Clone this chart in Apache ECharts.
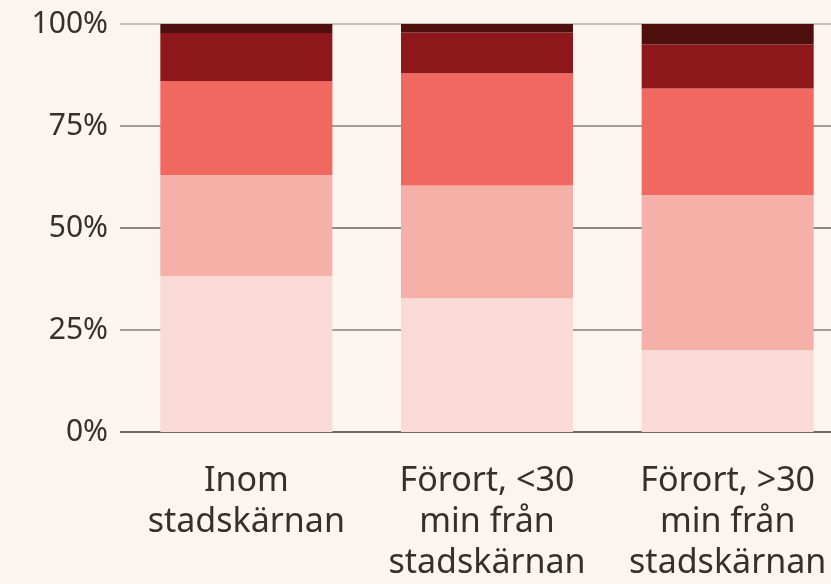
<!DOCTYPE html>
<html>
<head>
<meta charset="utf-8">
<script src="https://cdn.jsdelivr.net/npm/echarts@6/dist/echarts.min.js"></script>
<style>
html,body{margin:0;padding:0;background:#fbf4ef;overflow:hidden;width:831px;height:584px;}
#chart{width:850px;height:584px;}
</style>
</head>
<body>
<div id="chart"></div>
<script>
// Data (percent of each category, bottom to top)
const categories = ["Inom\nstadskärnan", "Förort, <30\nmin från\nstadskärnan", "Förort, >30\nmin från\nstadskärnan"];
const seriesNames = ["Segment 1", "Segment 2", "Segment 3", "Segment 4", "Segment 5"];
const seg1 = [38.2, 32.8, 20.1];
const seg2 = [24.8, 27.6, 38.0];
const seg3 = [23.0, 27.5, 26.1];
const seg4 = [11.8, 10.0, 10.8];
const seg5 = [2.2, 2.1, 5.0];
const yTicks = [0, 25, 50, 75, 100];

const colors = ["#f9dad6", "#f5b0a8", "#f0685f", "#8e171b", "#4e100e"];
const font = "'Noto Sans', sans-serif";
const allSeg = [seg1, seg2, seg3, seg4, seg5];

const chart = echarts.init(document.getElementById('chart'));
chart.setOption({
  backgroundColor: '#fbf4ef',
  animation: false,
  grid: [
    {left: 120, right: 0, top: 24, height: 408, containLabel: false},
    {left: 126, width: 722, top: 24, height: 408, containLabel: false}
  ],
  xAxis: [
    {gridIndex: 0, type: 'category', data: categories, show: false},
    {gridIndex: 1, type: 'category', data: categories,
     axisLine: {show: false}, axisTick: {show: false},
     axisLabel: {interval: 0, margin: 29, color: '#35302d', fontSize: 34, lineHeight: 41, fontFamily: font}}
  ],
  yAxis: [
    {gridIndex: 0, type: 'value', min: yTicks[0], max: yTicks[yTicks.length - 1], interval: 25,
     axisLine: {show: false}, axisTick: {show: false},
     axisLabel: {formatter: '{value}%', margin: 12, color: '#35302d', fontSize: 30, fontFamily: font,
                 verticalAlign: 'middle', padding: [4, 0, 0, 0]},
     splitLine: {show: true, lineStyle: {color: ['#6f6a66', '#a09a96', '#908a86', '#a09a96', '#c4bcb7'], width: 2}}},
    {gridIndex: 1, type: 'value', min: 0, max: 100, show: false, splitLine: {show: false}}
  ],
  series: allSeg.map((d, i) => ({
    name: seriesNames[i],
    type: 'bar',
    xAxisIndex: 1, yAxisIndex: 1,
    stack: 'total',
    barWidth: 172,
    data: d,
    itemStyle: {color: colors[i]},
    z: 3
  }))
});
</script>
</body>
</html>
